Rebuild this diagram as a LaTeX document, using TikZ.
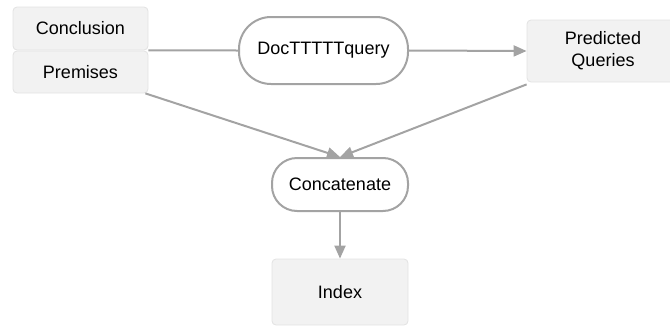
\documentclass[tikz,border=0pt]{standalone}
\usepackage{fontspec}
\setmainfont{Liberation Sans}
\usetikzlibrary{arrows.meta}
\definecolor{boxfill}{HTML}{F2F2F2}
\definecolor{boxline}{HTML}{E2E2E2}
\definecolor{edge}{HTML}{A3A3A3}
\tikzset{
  databox/.style={draw=boxline, line width=0.8pt, fill=boxfill, rounded corners=4pt,
    inner sep=0pt, align=center, font=\fontsize{18}{22}\selectfont},
  stadium/.style={draw=edge, line width=2pt, fill=white, rounded corners=26pt,
    inner sep=0pt, font=\fontsize{18}{22}\selectfont},
  link/.style={draw=edge, line width=2pt},
  arrowlink/.style={link, -{Triangle[length=13pt,width=11pt]}}
}
\begin{document}
\begin{tikzpicture}[x=1pt,y=-1pt]
\useasboundingbox (0,0) rectangle (670,327);
\begin{scope}
\clip (0,0) rectangle (670,327);
\node[databox, minimum width=135pt, minimum height=43pt] (concl) at (80.5,28.5) {Conclusion};
\node[databox, minimum width=135pt, minimum height=42pt] (prem) at (80.5,72) {Premises};
\node[stadium, minimum width=169pt, minimum height=67pt, rounded corners=32pt] (doc) at (323.5,50.5) {DocTTTTTquery};
\node[databox, minimum width=152pt, minimum height=62pt] (pred) at (603,51) {Predicted\\Queries};
\node[stadium, minimum width=136pt, minimum height=53pt, rounded corners=25pt] (concat) at (340,184.5) {Concatenate};
\node[databox, minimum width=136pt, minimum height=66pt] (index) at (340,292) {Index};
\end{scope}
\draw[link] (concl.south east) -- (doc.west);
\draw[arrowlink] (doc.east) -- (pred.west);
\draw[arrowlink] ([xshift=-3pt]prem.south east) -- (concat.north);
\draw[arrowlink] ([yshift=-2pt]pred.south west) -- (concat.north);
\draw[arrowlink] (concat.south) -- (index.north);
\end{tikzpicture}
\end{document}
